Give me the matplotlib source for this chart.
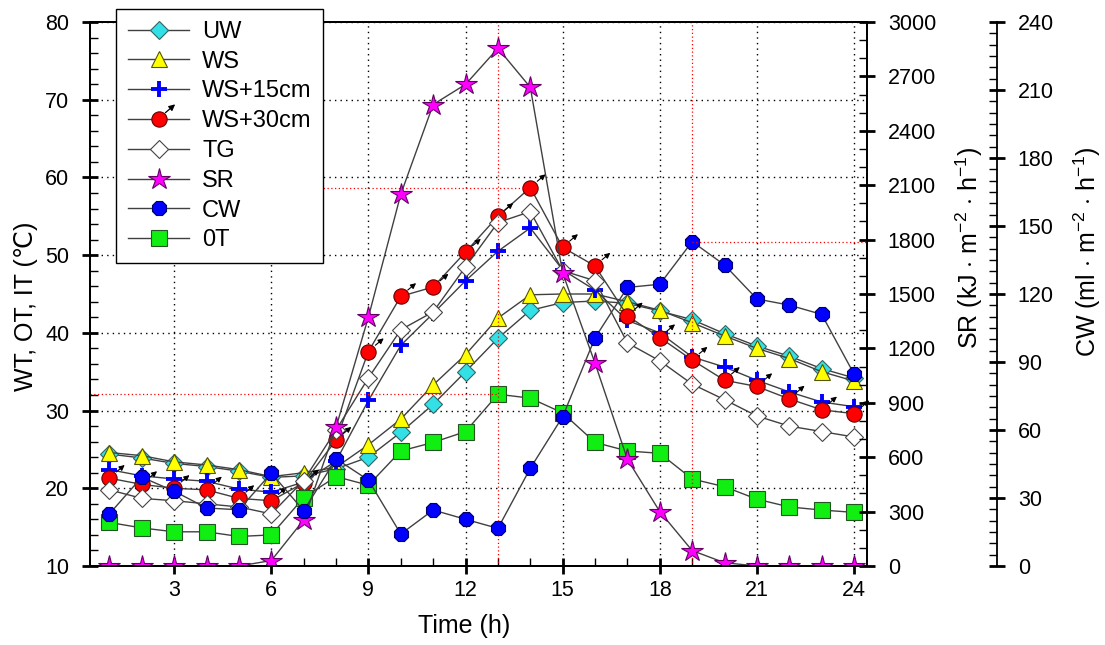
import matplotlib
matplotlib.use('Agg')
import matplotlib.pyplot as plt
import numpy as np
from matplotlib.ticker import MultipleLocator
from matplotlib.transforms import offset_copy
from matplotlib.legend_handler import HandlerLine2D
from matplotlib.patches import FancyArrowPatch

plt.rcParams['font.family'] = ['Liberation Sans', 'DejaVu Sans']
plt.rcParams['mathtext.fontset'] = 'custom'
plt.rcParams['mathtext.rm'] = 'Liberation Sans'

# hourly readings
hours = list(range(1, 25))
uw = [24.4, 23.9, 23.2, 22.8, 22.2, 21.4, 21.6, 22.5, 24.0, 27.2, 30.8, 35.0,
      39.3, 42.9, 43.9, 44.1, 43.8, 42.8, 41.7, 39.9, 38.3, 37.0, 35.4, 34.2]
ws = [24.6, 24.2, 23.4, 23.0, 22.4, 21.5, 22.0, 22.7, 25.6, 28.9, 33.3, 37.2,
      41.9, 44.9, 45.0, 45.0, 44.0, 42.9, 41.3, 39.6, 38.0, 36.7, 35.0, 33.8]
ws15 = [22.4, 21.6, 21.2, 20.9, 19.9, 19.5, 20.8, 23.5, 31.3, 38.4, 42.5, 46.7,
        50.5, 53.5, 48.1, 45.5, 41.6, 40.0, 36.9, 35.6, 33.9, 32.4, 31.1, 30.5]
ws30 = [21.3, 20.5, 20.0, 19.8, 18.7, 18.4, 20.7, 26.2, 37.6, 44.7, 45.9, 50.4,
        55.0, 58.7, 51.0, 48.6, 42.2, 39.4, 36.5, 33.9, 33.1, 31.5, 30.1, 29.6]
tg = [19.8, 18.7, 18.4, 18.0, 17.6, 16.7, 21.0, 27.5, 34.2, 40.4, 42.7, 48.5,
      54.2, 55.6, 48.0, 46.7, 38.7, 36.4, 33.4, 31.4, 29.3, 28.0, 27.3, 26.6]
ot = [15.6, 14.9, 14.4, 14.4, 13.8, 14.0, 18.8, 21.5, 20.4, 24.8, 25.9, 27.3,
      32.1, 31.6, 29.7, 25.9, 24.8, 24.5, 21.2, 20.2, 18.6, 17.6, 17.2, 16.9]
sr = [0, 0, 0, 0, 0, 30, 254, 765, 1373, 2050, 2545, 2656,
      2855, 2640, 1616, 1118, 588, 300, 85, 18, 0, 0, 0, 0]
cw = [23.0, 39.2, 33.0, 25.6, 24.8, 41.0, 24.4, 47.3, 37.9, 14.1, 24.7, 20.6,
      16.6, 43.1, 65.9, 100.7, 122.9, 124.3, 143.1, 132.8, 117.8, 115.1, 111.0, 84.7]


class HandlerArrowDot(HandlerLine2D):
    # circle marker with the small arrow, as in the plot
    def create_artists(self, legend, orig_handle, xdescent, ydescent,
                       width, height, fontsize, trans):
        arts = super().create_artists(legend, orig_handle, xdescent, ydescent,
                                      width, height, fontsize, trans)
        cx = width / 2 - xdescent
        cy = height / 2 - ydescent
        arr = FancyArrowPatch((cx + 5, cy + 4.5), (cx + 12, cy + 10.5),
                              arrowstyle='-|>', mutation_scale=9, color='k',
                              lw=0.9, shrinkA=0, shrinkB=0, transform=trans)
        return arts + [arr]


fig = plt.figure(figsize=(11.05, 6.45), dpi=100)
ax = fig.add_axes([90 / 1105, 79 / 645, 777 / 1105, 544 / 645])
ax2 = ax.twinx()
ax3 = ax.twinx()
ax3.spines['right'].set_position(('axes', 1 + 130 / 777))

lc = '#404040'
lw = 1.0
h_uw, = ax.plot(hours, uw, '-D', color=lc, lw=lw, ms=9, mfc='#33e0e6', mec='#336666', mew=0.8, label='UW')
h_ws, = ax.plot(hours, ws, '-^', color=lc, lw=lw, ms=12, mfc='#ffff00', mec='#555500', mew=0.8, label='WS')
h_15, = ax.plot(hours, ws15, '-+', color=lc, lw=lw, ms=12, mec='#0000ff', mew=2.8, label='WS+15cm')
h_30, = ax.plot(hours, ws30, '-o', color=lc, lw=lw, ms=11, mfc='#ff0000', mec='#660000', mew=0.8, label='WS+30cm')
h_tg, = ax.plot(hours, tg, '-D', color=lc, lw=lw, ms=9, mfc='white', mec='#444444', mew=0.8, label='TG')
h_ot, = ax.plot(hours, ot, '-s', color=lc, lw=lw, ms=11, mfc='#11ee11', mec='#225522', mew=0.8, label='0T')
h_sr, = ax2.plot(hours, sr, '-*', color=lc, lw=lw, ms=16, mfc='#ff00ff', mec='#660066', mew=0.8, label='SR')
h_cw, = ax3.plot(hours, cw, '-8', color=lc, lw=lw, ms=11, mfc='#0000ff', mec='#000066', mew=0.8, label='CW')

# arrows on the WS+30cm points
t_tail = offset_copy(ax.transData, fig=fig, x=5, y=4.5, units='points')
t_head = offset_copy(ax.transData, fig=fig, x=11, y=9.5, units='points')
for h, v in zip(hours, ws30):
    ax.annotate('', xy=(h, v), xycoords=t_head, xytext=(h, v), textcoords=t_tail,
                arrowprops=dict(arrowstyle='-|>', color='k', lw=0.8,
                                mutation_scale=8, shrinkA=0, shrinkB=0))

ax.set_xlim(0.4, 24.4)
ax.set_ylim(10, 80)
ax2.set_ylim(0, 3000)
ax3.set_ylim(0, 240)

# red reference lines at the peaks
i30 = int(np.argmax(ws30))
iot = int(np.argmax(ot))
icw = int(np.argmax(cw))
rl = dict(color='red', ls=(0, (1, 2)), lw=0.9)
ax.axvline(hours[iot], **rl)
ax.axvline(hours[icw], **rl)
ax.hlines(ws30[i30], hours[i30] - 10, hours[i30], **rl)
ax.hlines(ot[iot], 0.4, hours[iot], **rl)
ax3.hlines(cw[icw], hours[icw], 24.4, **rl)

ax.xaxis.set_major_locator(MultipleLocator(3))
ax.xaxis.set_minor_locator(MultipleLocator(1))
ax.yaxis.set_major_locator(MultipleLocator(10))
ax.yaxis.set_minor_locator(MultipleLocator(2))
ax2.yaxis.set_major_locator(MultipleLocator(300))
ax2.yaxis.set_minor_locator(MultipleLocator(100))
ax3.yaxis.set_major_locator(MultipleLocator(30))
ax3.yaxis.set_minor_locator(MultipleLocator(5))

ax.grid(which='major', color='k', ls=(0, (1, 3)), lw=1.0)
for a in (ax, ax2, ax3):
    for s in a.spines.values():
        s.set_linewidth(1.3)
    a.tick_params(which='major', direction='inout', length=12, width=2, labelsize=15.5)
    a.tick_params(which='minor', direction='in', length=6, width=1)
ax.tick_params(axis='x', which='major', top=False, pad=4)
ax.tick_params(axis='x', which='minor', top=False)
ax.tick_params(axis='y', which='major', pad=9)
ax2.tick_params(axis='y', which='major', pad=9)
ax3.tick_params(axis='y', which='major', pad=9)

ax.set_xlabel('Time (h)', fontsize=18)
ax.xaxis.set_label_coords(0.481, -0.088)
ax.set_ylabel('WT, OT, IT (\u2103)', fontsize=18)
ax.yaxis.set_label_coords(-0.067, 0.478)
ax2.set_ylabel(r'SR (kJ $\cdot$ m$^{\mathregular{-2}}$ $\cdot$ h$^{\mathregular{-1}}$)', fontsize=18)
ax2.yaxis.set_label_coords(1.111, 0.585)
ax3.set_ylabel(r'CW (ml $\cdot$ m$^{\mathregular{-2}}$ $\cdot$ h$^{\mathregular{-1}}$)', fontsize=18)
ax3.yaxis.set_label_coords(1.263, 0.577)

handles = [h_uw, h_ws, h_15, h_30, h_tg, h_sr, h_cw, h_ot]
leg = ax3.legend(handles=handles, loc='upper left',
                 bbox_to_anchor=(116 / 1105, 1 - 9 / 645), bbox_transform=fig.transFigure,
                 borderaxespad=0, fontsize=17, frameon=True, fancybox=False,
                 edgecolor='k', framealpha=1, handlelength=2.6, handletextpad=0.55,
                 labelspacing=0.33, borderpad=0.5,
                 handler_map={h_30: HandlerArrowDot()})
leg.get_frame().set_linewidth(1.0)
leg.set_zorder(10)

fig.savefig('out.png', dpi=100)
